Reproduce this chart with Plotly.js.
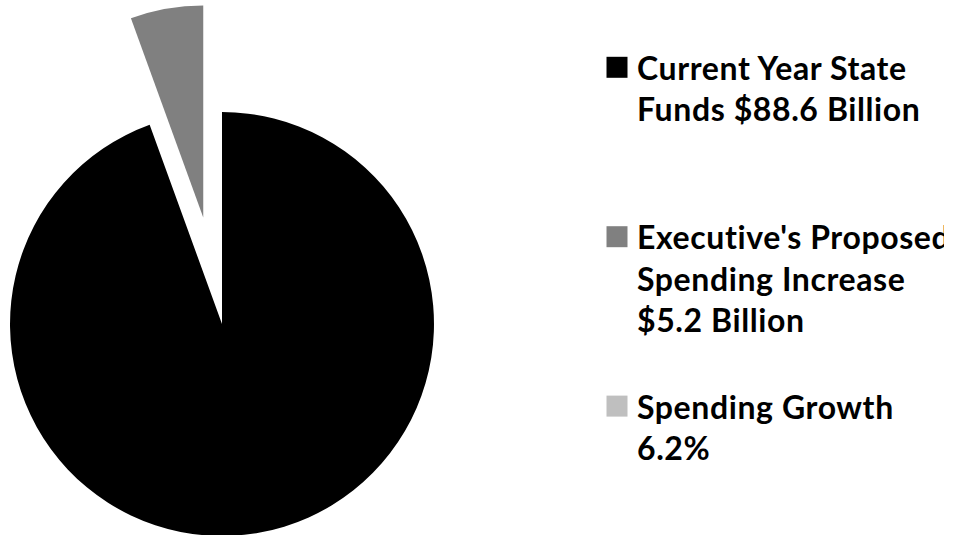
<!DOCTYPE html>
<html><head><meta charset="utf-8">
<script src="https://cdn.plot.ly/plotly-3.0.1.min.js"></script>
<style>
html,body{margin:0;padding:0;overflow:hidden;width:966px;height:535px;background:#fff}
#chart{position:absolute;left:-100px;top:0;width:1100px;height:650px}
#chart .legendtext{letter-spacing:0.6px}
</style></head>
<body><div id="chart"></div>
<script>
const labels = [
  "Current Year State<br>Funds $88.6 Billion<br> <br> ",
  "Executive's Proposed<br>Spending Increase<br>$5.2 Billion<br> ",
  "Spending Growth<br>6.2%"
];
const values = [88.6, 5.2, 0];
const colors = ["#000000", "#808080", "#bfbfbf"];
const pulls = [0, 0.51, 0];

const W = 1100, H = 650;
const trace = {
  type: "pie",
  labels: labels,
  values: values,
  marker: {colors: colors, line: {width: 0}},
  pull: pulls,
  sort: false,
  direction: "clockwise",
  rotation: 0,
  textinfo: "none",
  hoverinfo: "label+value",
  domain: {x: [1.9 / W, 642.1 / W], y: [(H - 644.1) / H, (H - 3.9) / H]}
};
const layout = {
  width: W, height: H,
  margin: {l: 0, r: 0, t: 0, b: 0},
  paper_bgcolor: "#ffffff",
  showlegend: true,
  legend: {
    x: 697 / W, xanchor: "left",
    y: 1 - 40 / H, yanchor: "top",
    valign: "top",
    font: {family: "Lato, 'Open Sans', sans-serif", size: 32, color: "#000000", weight: "bold"},
    bgcolor: "rgba(0,0,0,0)"
  }
};
function bigSymbols() {
  document.querySelectorAll("#chart .legendpoints path").forEach(p => {
    p.setAttribute("d", "M10.5,10.5H-10.5V-10.5H10.5Z");
  });
}
Plotly.newPlot("chart", [trace], layout, {staticPlot: true}).then(gd => {
  bigSymbols();
  gd.on && gd.on("plotly_afterplot", bigSymbols);
});
</script>
</body></html>
